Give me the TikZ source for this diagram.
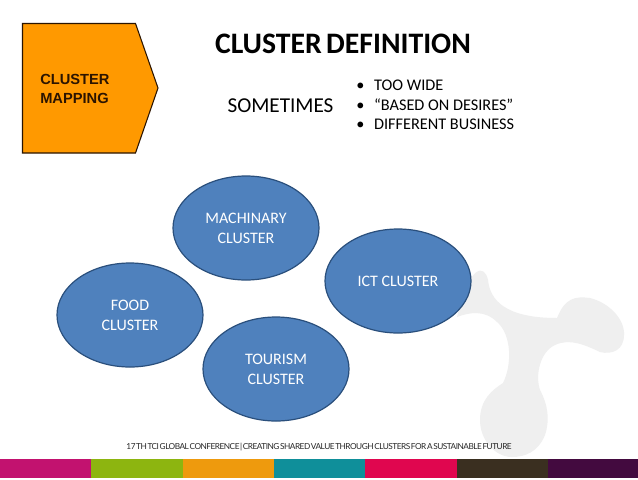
\documentclass[tikz,border=0pt]{standalone}
\usepackage{fontspec}
\setmainfont{Carlito}
\newfontfamily\arialfont{Liberation Sans}
\newfontfamily\footfont[LetterSpace=-6,WordSpace=0.4]{Lato}
\usetikzlibrary{shapes.geometric}
\definecolor{blobgray}{HTML}{EFEFEF}
\definecolor{tabfill}{HTML}{FF9900}
\definecolor{tabline}{HTML}{2B1400}
\definecolor{ovalfill}{HTML}{4F81BD}
\definecolor{ovalline}{HTML}{2A4F7C}
\tikzset{
  oval/.style={ellipse,draw=ovalline,fill=ovalfill,line width=0.9pt,minimum width=109.5pt,minimum height=78pt,inner sep=0pt},
  ovaltext/.style={text=white,font=\fontsize{12}{15}\selectfont,align=center},
}
\begin{document}
\begin{tikzpicture}[x=0.75pt,y=-0.75pt]
  \useasboundingbox (0,0) rectangle (638,479);
  \fill[white] (0,0) rectangle (638,479);
  \fill[blobgray] (457,317) .. controls (470,262) and (485,265) .. (488,280)
    .. controls (490,300) and (505,318) .. (557,318)
    .. controls (565,298) and (575,296) .. (590,298)
    .. controls (610,303) and (625,320) .. (624,335)
    .. controls (624,350) and (612,355) .. (600,352)
    .. controls (585,345) and (570,338) .. (555,345)
    .. controls (540,352) and (535,375) .. (540,390)
    .. controls (548,405) and (550,420) .. (545,435)
    .. controls (538,452) and (525,457) .. (512,457)
    .. controls (495,457) and (480,440) .. (480,420)
    .. controls (480,400) and (492,390) .. (503,383)
    .. controls (512,365) and (512,335) .. (497,322)
    .. controls (485,310) and (470,312) .. (457,317) -- cycle; % 背景の灰色の模様
  \draw[fill=tabfill,draw=tabline,line width=0.8pt] (22.5,23.5) -- (135.5,23.5) -- (158,88) -- (135.5,153) -- (22.5,153) -- cycle; % 左上の五角形
  \node[anchor=west,inner sep=0pt,align=left,text=tabline,font=\arialfont\bfseries\fontsize{11}{13.8}\selectfont] (maptab) at (40,89) {CLUSTER\\MAPPING};
  \node[font=\bfseries\fontsize{22.3}{24}\selectfont,inner sep=0pt] (title) at (343,44) {CLUSTER\hspace{-0.08em} DEFINITION};
  \node[font=\fontsize{15.9}{18}\selectfont,inner sep=0pt] (sometimes) at (280.5,106) {SOMETIMES};
  \node[anchor=west,inner sep=0pt,align=left,font=\fontsize{12.2}{14.6}\selectfont] (reasons) at (356,105) {\textbullet\hspace{0.6em}TOO WIDE\\\textbullet\hspace{0.6em}“BASED ON DESIRES”\\\textbullet\hspace{0.6em}DIFFERENT BUSINESS};
  \node[oval,ovaltext] (machinary) at (246,228) {MACHINARY\\CLUSTER};
  \node[oval,ovaltext] (ict) at (398,281) {ICT CLUSTER};
  \node[oval,ovaltext] (food) at (130,315) {FOOD\\CLUSTER};
  \node[oval,ovaltext] (tourism) at (276,369) {TOURISM\\CLUSTER};
  \node[font=\footfont\fontsize{6.2}{8}\selectfont,inner sep=0pt,text=black!85] (footer) at (319,447) {17 TH TCI GLOBAL CONFERENCE | CREATING SHARED VALUE THROUGH CLUSTERS FOR A SUSTAINABLE FUTURE};
  \foreach \xa/\xb/\barhex in {0/91/C2126F,91/183/8DB510,183/274/EE9A0D,274/365/0F8F9A,365/457/E0064F,457/548/3A2F20,548/638/430A3F}{
    \definecolor{barcol}{HTML}{\barhex}
    \fill[barcol] (\xa,459) rectangle (\xb,478); % 下の色帯
  }
\end{tikzpicture}
\end{document}
